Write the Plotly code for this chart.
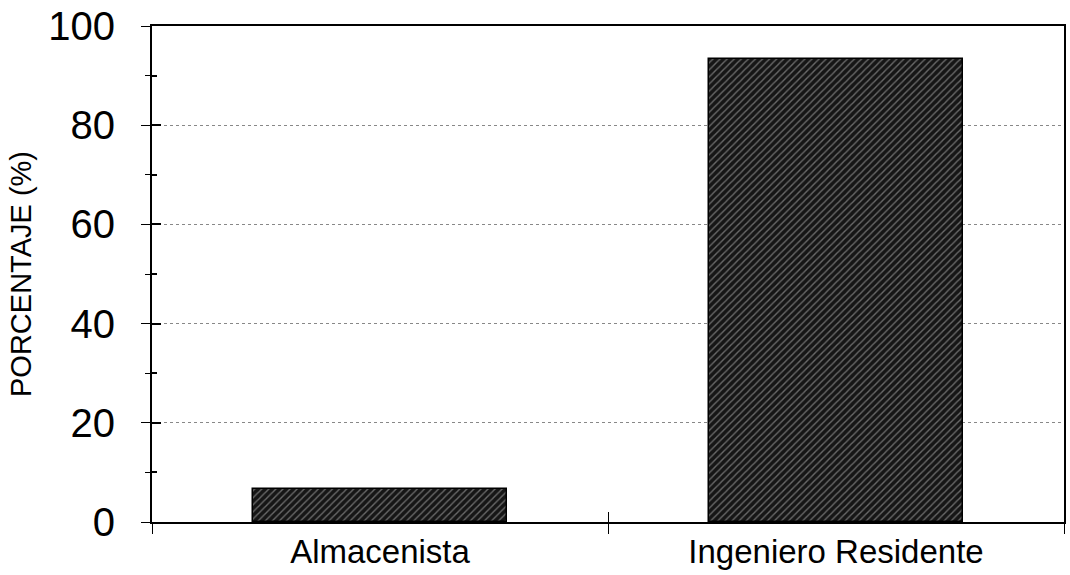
import plotly.graph_objects as go

categories = ["Almacenista", "Ingeniero Residente"]
values = [6.67, 93.33]
y_ticks = [0, 20, 40, 60, 80, 100]

FONT = "Liberation Sans, Arial, sans-serif"

fig = go.Figure()
fig.add_trace(go.Bar(
    x=categories, y=values, width=0.555,
    marker=dict(
        color="#161616",
        line=dict(color="black", width=1.5),
        pattern=dict(shape="/", fillmode="overlay", bgcolor="#161616",
                     fgcolor="#bdbdbd", size=5, solidity=0.28),
    ),
    hoverinfo="skip",
))
# empty helper trace so that the overlay axes (crossing ticks) are drawn
fig.add_trace(go.Scatter(x=[None], y=[None], xaxis="x2", yaxis="y2",
                         mode="markers", hoverinfo="skip", showlegend=False))

fig.update_layout(
    width=1070, height=575,
    margin=dict(l=152, r=4, t=24, b=53),
    paper_bgcolor="white", plot_bgcolor="white",
    showlegend=False,
    font=dict(family=FONT, color="black"),
    xaxis=dict(
        type="category", range=[-0.5, 1.5],
        showline=True, linecolor="black", linewidth=1.5, mirror=True,
        ticks="outside", ticklen=10, tickcolor="black", tickwidth=1.2,
        tickson="boundaries", showgrid=False,
        tickfont=dict(size=33, family=FONT, color="black"),
    ),
    yaxis=dict(
        range=[0, 100], tickvals=y_ticks,
        showline=True, linecolor="black", linewidth=2, mirror=True,
        ticks="outside", ticklen=9, tickcolor="black", tickwidth=1.2,
        minor=dict(dtick=10, ticks="outside", ticklen=5, tickcolor="black", tickwidth=1.2, showgrid=False),
        showgrid=True, gridcolor="#888888", griddash="dot", gridwidth=1,
        zeroline=False,
        tickfont=dict(size=40, family=FONT, color="black"),
        ticklabelstandoff=18,
        title=dict(text="PORCENTAJE (%)", font=dict(size=29, family=FONT, color="black"), standoff=8),
    ),
    xaxis2=dict(
        overlaying="x", anchor="y2", range=[-0.5, 1.5], tickvals=[0.5],
        ticks="inside", ticklen=10, tickcolor="black", tickwidth=1.2,
        showticklabels=False, showgrid=False, showline=False, zeroline=False,
    ),
    yaxis2=dict(
        overlaying="y", anchor="x2", side="left", range=[0, 100], tickvals=y_ticks,
        ticks="inside", ticklen=9, tickcolor="black", tickwidth=1.5,
        minor=dict(dtick=10, ticks="inside", ticklen=5, tickcolor="black", tickwidth=1.5, showgrid=False),
        showticklabels=False, showgrid=False, showline=False, zeroline=False,
    ),
    bargap=0,
)

fig.write_html("out.html")
